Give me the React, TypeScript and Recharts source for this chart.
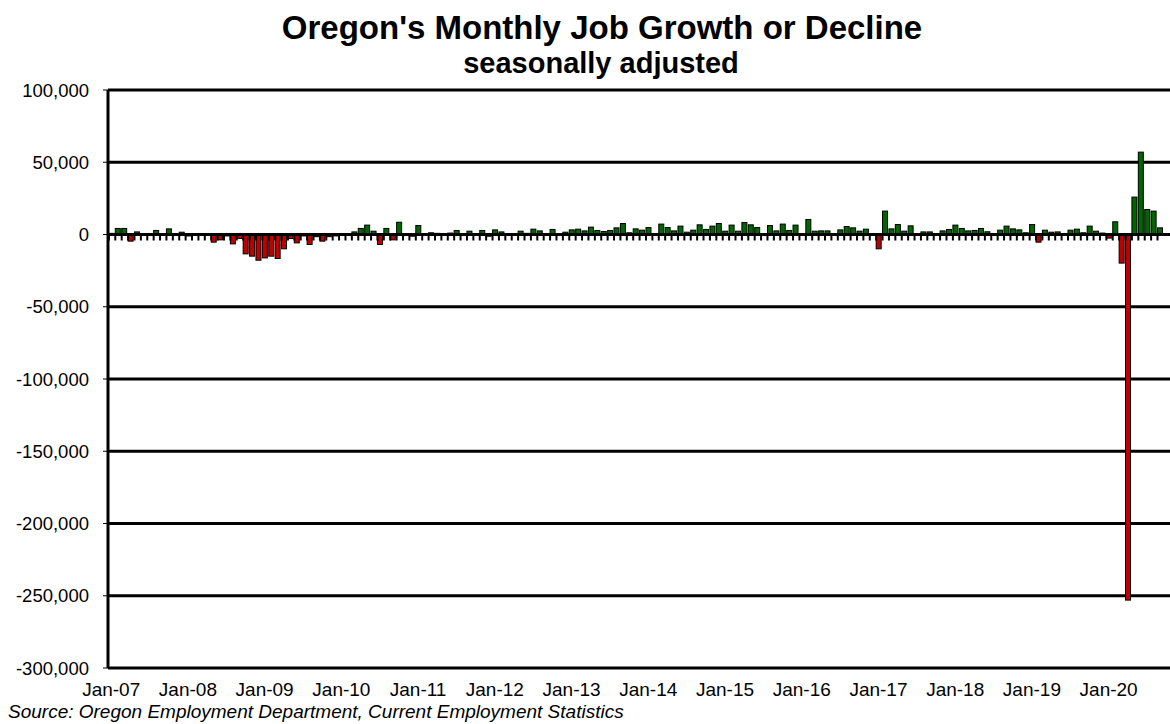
import { Bar, BarChart, CartesianGrid, Cell, ReferenceLine, XAxis, YAxis } from "recharts";

// monthly change in nonfarm jobs, seasonally adjusted
const years = ["07", "08", "09", "10", "11", "12", "13", "14", "15", "16", "17", "18", "19", "20"];
const monthNames = ["Jan", "Feb", "Mar", "Apr", "May", "Jun", "Jul", "Aug", "Sep", "Oct", "Nov", "Dec"];

const jobs2007 = [800, 4200, 4200, -4600, 1800, 300, 400, 2800, 500, 3900, 300, 1600];
const jobs2008 = [-1000, 300, -500, 200, -5300, -3700, -1000, -6500, -2800, -13400, -15000, -17800];
const jobs2009 = [-16200, -15000, -16600, -9900, -2800, -5800, -1000, -6900, -1500, -4600, -1500, -1000];
const jobs2010 = [-500, 300, 1800, 4200, 6500, 2300, -6900, 4200, -3700, 8500, -700, -1200];
const jobs2011 = [6200, 500, 1200, 800, 600, 1000, 2800, 600, 2300, 500, 2800, -1200];
const jobs2012 = [3200, 1800, 700, 500, 2300, 800, 3700, 2500, 700, 3500, 300, 1600];
const jobs2013 = [3200, 3700, 2500, 5100, 2800, 2100, 2800, 4600, 7600, 1200, 3900, 3000];
const jobs2014 = [4800, 500, 7200, 4800, 2500, 5800, 1600, 3000, 6700, 3500, 5800, 7600];
const jobs2015 = [2300, 6500, 2300, 8300, 6700, 4800, 500, 6200, 2500, 7200, 2800, 6500];
const jobs2016 = [300, 10400, 2300, 2500, 2500, 700, 3200, 5500, 4600, 2300, 3700, -700];
const jobs2017 = [-9900, 16200, 3900, 6900, 2300, 6000, 500, 1800, 1800, 700, 2500, 3500];
const jobs2018 = [6500, 4200, 2500, 2800, 4200, 1900, 700, 3000, 5800, 3900, 3200, 1200];
const jobs2019 = [6900, -5300, 3000, 1600, 1800, 300, 3000, 3700, 1200, 5800, 2300, 1000];
const jobs2020 = [-2500, 8800, -19800, -253000, 25900, 57000, 17300, 16200, 4600];

const jobChange = [
  ...jobs2007, ...jobs2008, ...jobs2009, ...jobs2010, ...jobs2011, ...jobs2012, ...jobs2013,
  ...jobs2014, ...jobs2015, ...jobs2016, ...jobs2017, ...jobs2018, ...jobs2019, ...jobs2020,
];

const months = years.flatMap((y) => monthNames.map((m) => `${m}-${y}`)).slice(0, jobChange.length);
const yTicks = [100000, 50000, 0, -50000, -100000, -150000, -200000, -250000, -300000];

const data = months.map((month, i) => ({ month, change: jobChange[i] }));

const font = "'Liberation Sans', Arial, sans-serif";

// bar plus the little category tick hanging under the zero line
function JobBar(props: any) {
  const { x, y, width, height, fill, background } = props;
  const top = Math.min(y, y + height);
  const h = Math.abs(height);
  const zeroY = y + height;
  const edge = background ? background.x : x - 0.5;
  return (
    <g>
      <rect x={x} y={top} width={width} height={h} fill={fill} stroke="#000" strokeWidth={1} />
      <line x1={edge} x2={edge} y1={zeroY} y2={zeroY + 6} stroke="#000" strokeWidth={2} />
    </g>
  );
}

export default function App() {
  return (
    <div style={{ position: "relative", width: 1170, height: 724, fontFamily: font, background: "#fff", overflow: "hidden" }}>
      <style>{`body { margin: 0; }`}</style>
      <div
        style={{
          position: "absolute",
          left: 17,
          top: 10,
          width: 1170,
          textAlign: "center",
          fontWeight: "bold",
          fontSize: 33,
          lineHeight: "36px",
          color: "#000",
        }}
      >
        Oregon's Monthly Job Growth or Decline
      </div>
      <div
        style={{
          position: "absolute",
          left: 16,
          top: 46,
          width: 1170,
          textAlign: "center",
          fontWeight: "bold",
          fontSize: 29,
          lineHeight: "34px",
          color: "#000",
        }}
      >
        seasonally adjusted
      </div>
      <BarChart
        width={1170}
        height={724}
        data={data}
        margin={{ top: 90, right: 0, bottom: 0, left: 0 }}
        barCategoryGap="14%"
      >
        <CartesianGrid horizontal vertical={false} stroke="#000" strokeWidth={3} strokeOpacity={1} />
        <XAxis
          dataKey="month"
          interval={11}
          height={56}
          axisLine={false}
          tickLine={false}
          tickMargin={9}
          padding={{ left: 0, right: 7 }}
          tick={{ fill: "#000", fontSize: 19, fontFamily: font }}
        />
        <YAxis
          domain={[-300000, 100000]}
          ticks={yTicks}
          width={108}
          allowDataOverflow
          axisLine={{ stroke: "#000", strokeWidth: 3 }}
          tickLine={{ stroke: "#000", strokeWidth: 1 }}
          tickSize={5}
          tickMargin={14}
          tickFormatter={(v: number) => v.toLocaleString("en-US")}
          tick={{ fill: "#000", fontSize: 18.5, fontFamily: font }}
        />
        <Bar dataKey="change" isAnimationActive={false} shape={<JobBar />}>
          {data.map((d) => (
            <Cell key={d.month} fill={d.change < 0 ? "#C00000" : "#006600"} />
          ))}
        </Bar>
        <ReferenceLine y={0} stroke="#000" strokeWidth={3} />
      </BarChart>
      <div
        style={{
          position: "absolute",
          left: 8,
          top: 701,
          fontStyle: "italic",
          fontSize: 19,
          color: "#000",
          whiteSpace: "nowrap",
        }}
      >
        Source: Oregon Employment Department, Current Employment Statistics
      </div>
    </div>
  );
}
